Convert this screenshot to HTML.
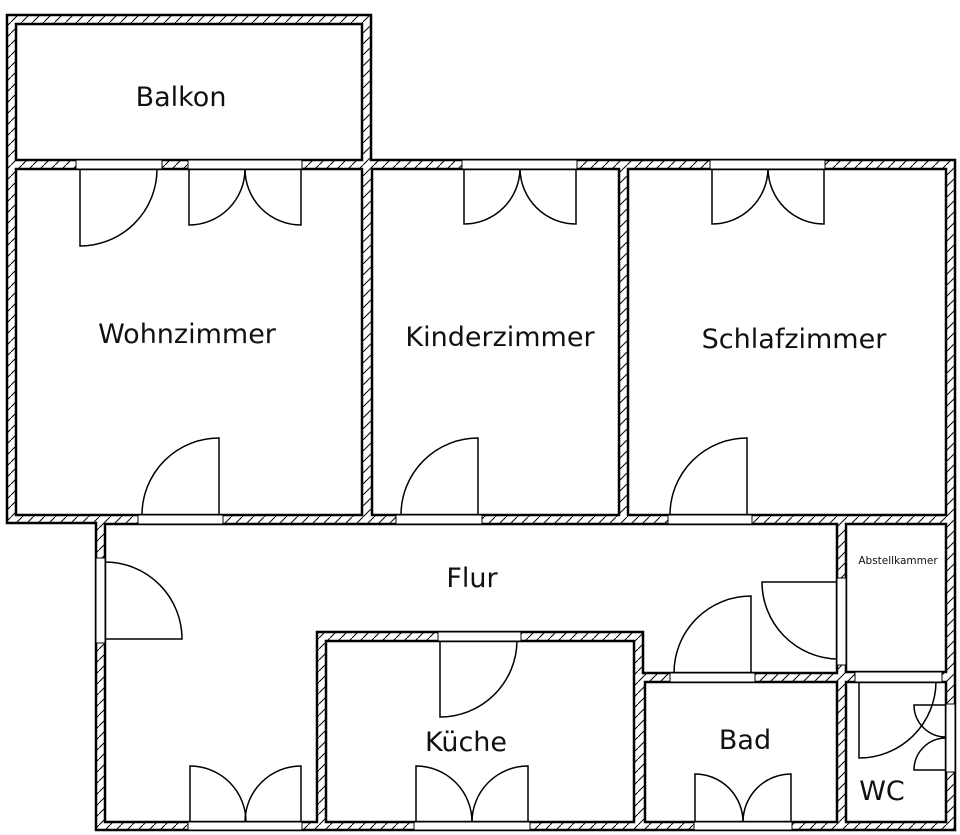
<!DOCTYPE html>
<html><head><meta charset="utf-8"><style>
html,body{margin:0;padding:0;background:#fff;}
svg{display:block;}
text{font-family:"DejaVu Sans","Liberation Sans",sans-serif;fill:#111;}
</style></head><body>
<svg width="960" height="835" viewBox="0 0 960 835" xmlns="http://www.w3.org/2000/svg">
<defs>
<pattern id="h" width="11" height="11" patternUnits="userSpaceOnUse">
<rect width="11" height="11" fill="#fff"/>
<path d="M-2,13 L13,-2" stroke="#000" stroke-width="1"/>
</pattern>
</defs>
<polygon points="7,15 371,15 371,160 955,160 955,830 96,830 96,523 7,523" fill="url(#h)" stroke="#000" stroke-width="2.5"/>
<g fill="#fff" stroke="#000" stroke-width="2.5">
<rect x="16" y="24" width="346" height="136"/>
<rect x="16" y="169" width="346" height="346"/>
<rect x="372" y="169" width="247" height="346"/>
<rect x="628" y="169" width="318" height="346"/>
<polygon points="105,524 837,524 837,673 643,673 643,632 317,632 317,822 105,822"/>
<rect x="326" y="641" width="308" height="181"/>
<rect x="645" y="682" width="192" height="140"/>
<rect x="846" y="524" width="100" height="148"/>
<rect x="846" y="682" width="100" height="140"/>
</g>
<g fill="#fff" stroke="#000" stroke-width="1">
<rect x="76" y="160" width="86" height="9"/>
<rect x="188" y="160" width="114" height="9"/>
<rect x="462" y="160" width="115" height="9"/>
<rect x="710" y="160" width="115" height="9"/>
<rect x="138" y="515" width="85" height="9"/>
<rect x="396" y="515" width="86" height="9"/>
<rect x="668" y="515" width="84" height="9"/>
<rect x="96" y="558" width="9" height="85"/>
<rect x="188" y="822" width="114" height="8"/>
<rect x="438" y="632" width="83" height="9"/>
<rect x="414" y="822" width="116" height="8"/>
<rect x="694" y="822" width="98" height="8"/>
<rect x="670" y="673" width="85" height="9"/>
<rect x="837" y="578" width="9" height="87"/>
<rect x="855" y="672" width="87" height="10"/>
<rect x="946" y="704" width="9" height="68"/>
</g>
<g fill="none" stroke="#000" stroke-width="1.5">
<path d="M80,169 V246 A77,77 0 0 0 157,169"/>
<path d="M189,169 V225 A56,56 0 0 0 245,169"/>
<path d="M301,169 V225 A56,56 0 0 1 245,169"/>
<path d="M464,169 V224 A56,56 0 0 0 520,169"/>
<path d="M576,169 V224 A56,56 0 0 1 520,169"/>
<path d="M712,169 V224 A56,56 0 0 0 768,169"/>
<path d="M824,169 V224 A56,56 0 0 1 768,169"/>
<path d="M219,515 V438 A77,77 0 0 0 142,515"/>
<path d="M478,515 V438 A77,77 0 0 0 401,515"/>
<path d="M747,515 V438 A77,77 0 0 0 670,515"/>
<path d="M105,639 H182 A77,77 0 0 0 105,562"/>
<path d="M190,822 V766 A56,56 0 0 1 246,822"/>
<path d="M301,822 V766 A56,56 0 0 0 245,822"/>
<path d="M440,641 V717 A77,77 0 0 0 517,641"/>
<path d="M416,822 V766 A56,56 0 0 1 472,822"/>
<path d="M528,822 V766 A56,56 0 0 0 472,822"/>
<path d="M695,822 V774 A48,48 0 0 1 743,822"/>
<path d="M791,822 V774 A48,48 0 0 0 743,822"/>
<path d="M751,673 V596 A77,77 0 0 0 674,673"/>
<path d="M837,582 H762 A77,77 0 0 0 837,659"/>
<path d="M859,682 V758 A77,77 0 0 0 936,682"/>
<path d="M946,705 H914 A32,32 0 0 0 946,737"/>
<path d="M946,770 H914 A32,32 0 0 1 946,738"/>
</g>
<g font-size="27" text-anchor="middle">
<text x="181" y="106">Balkon</text>
<text x="187" y="343">Wohnzimmer</text>
<text x="500" y="346">Kinderzimmer</text>
<text x="794" y="348">Schlafzimmer</text>
<text x="472" y="587">Flur</text>
<text x="466" y="751">Küche</text>
<text x="745" y="749">Bad</text>
<text x="882" y="800">WC</text>
<text x="898" y="564" font-size="10.5">Abstellkammer</text>
</g>
</svg>
</body></html>
